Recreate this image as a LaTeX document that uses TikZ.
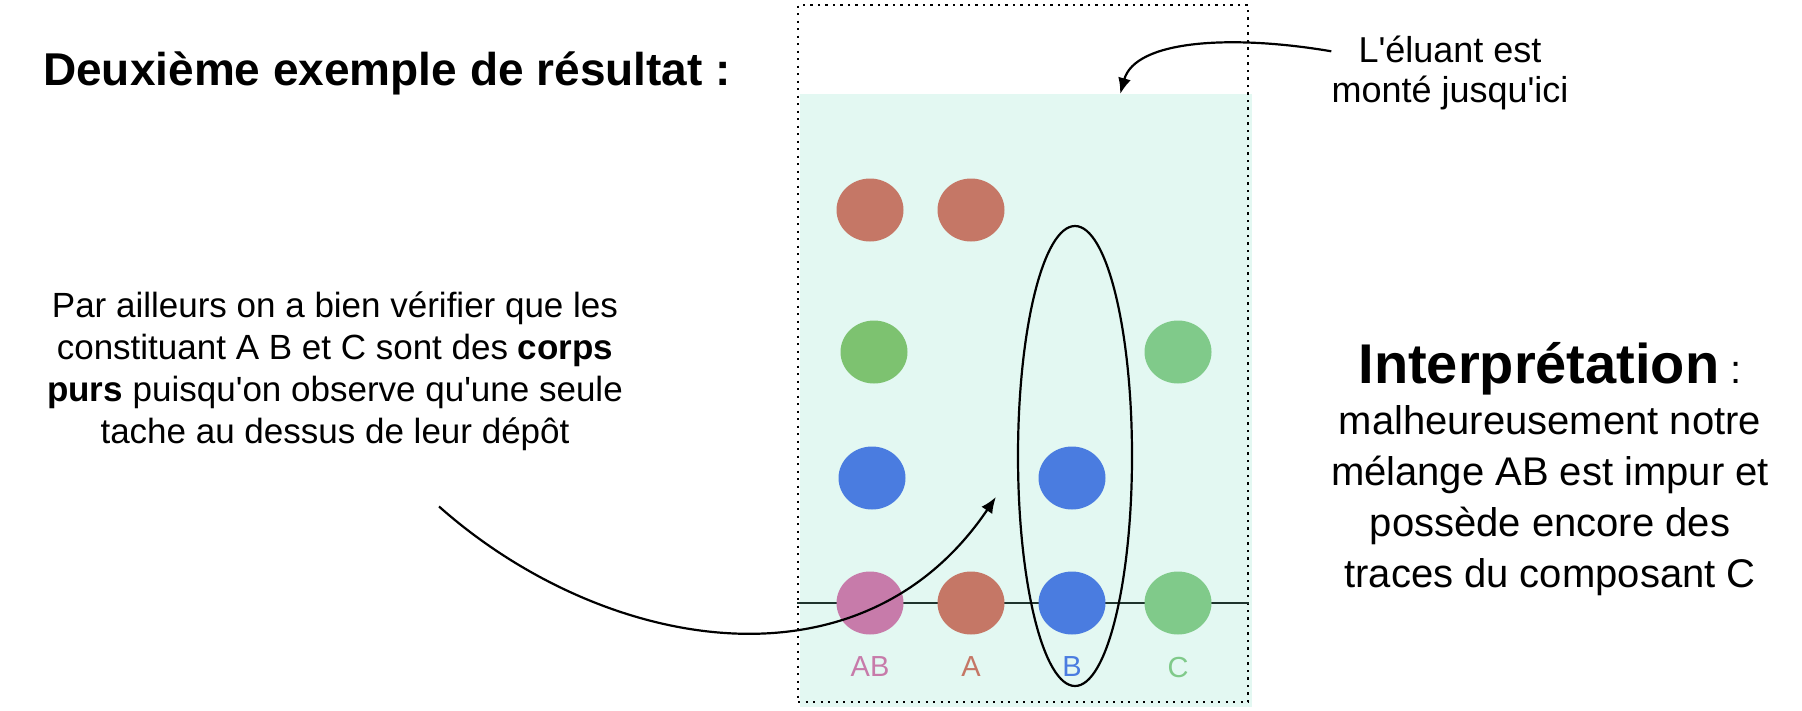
\documentclass[tikz,border=0pt]{standalone}
\usepackage{fontspec}
\setmainfont{Liberation Sans}
\usetikzlibrary{shapes.geometric, arrows.meta, positioning}
\definecolor{pMint}{RGB}{227,248,242}
\definecolor{pBrick}{RGB}{197,119,102}
\definecolor{pLeaf}{RGB}{125,194,112}
\definecolor{pLeafSoft}{RGB}{128,202,138}
\definecolor{pBlue}{RGB}{74,124,224}
\definecolor{pPink}{RGB}{199,123,170}
\definecolor{pInk}{RGB}{30,52,45}
\newcommand{\apos}{\textquotesingle}
\tikzset{
  spot/.style={ellipse, minimum width=67pt, minimum height=63pt, inner sep=0pt},
  spotlabel/.style={font=\fontsize{29}{32}\selectfont, inner sep=0pt, below=22pt of #1},
  bigtext/.style={align=center, inner sep=0pt},
  curvearrow/.style={-{Latex[length=16pt,width=13pt]}, line width=2.2pt}
}

\begin{document}
\begin{tikzpicture}[x=1pt,y=-1pt]
\useasboundingbox (0,0) rectangle (1802,710);
% plaque and solvent front
\node[fill=pMint, minimum width=452pt, minimum height=613pt, inner sep=0pt, anchor=north west] (plaque) at (800,94) {};
\node[draw, line width=2.2pt, dash pattern=on 2.2pt off 5.3pt, minimum width=450pt, minimum height=697pt, inner sep=0pt, anchor=north west] (cadre) at (797,4) {};
\coordinate (ligne) at (0,603);
\draw[pInk, line width=1.8pt] (cadre.west |- ligne) -- (cadre.east |- ligne);
% deposits
\node[spot, fill=pPink] (depAB) at (870,603) {};
\node[spot, fill=pBrick] (depA) at (971,603) {};
\node[spot, fill=pBlue] (depB) at (1072,603) {};
\node[spot, fill=pLeafSoft] (depC) at (1178,603) {};
\node[spotlabel=depAB, text=pPink] (labAB) {AB};
\node[spotlabel=depA, text=pBrick] (labA) {A};
\node[spotlabel=depB, text=pBlue] (labB) {B};
\node[spotlabel=depC, text=pLeafSoft] (labC) {C};
% spots after migration
\node[spot, fill=pBrick] (tacheAB1) at (870,210) {};
\node[spot, fill=pLeaf] (tacheAB2) at (874,352) {};
\node[spot, fill=pBlue] (tacheAB3) at (872,478) {};
\node[spot, fill=pBrick] (tacheA) at (971,210) {};
\node[spot, fill=pBlue] (tacheB) at (1072,478) {};
\node[spot, fill=pLeafSoft] (tacheC) at (1178,352) {};
\node[draw, ellipse, line width=2.2pt, minimum width=114pt, minimum height=460pt, inner sep=0pt] (boucleB) at (1075,456) {};
% texts (base = last line)
\node[anchor=base west, inner sep=0pt, font=\fontsize{46}{52}\selectfont\bfseries] (titre) at (43,85) {Deuxième exemple de résultat :};
\node[bigtext, anchor=base, font=\fontsize{35}{42}\selectfont] (remarque) at (335,443) {Par ailleurs on a bien vérifier que les\\constituant A B et C sont des \textbf{corps}\\\textbf{purs} puisqu\apos on observe qu\apos une seule\\tache au dessus de leur dépôt};
\node[bigtext, anchor=base, font=\fontsize{36}{40}\selectfont] (eluant) at (1450,102) {L\apos éluant est\\monté jusqu\apos ici};
\node[anchor=base, inner sep=0pt] (interp) at (1550,383) {\fontsize{56}{60}\selectfont\bfseries Interprétation\fontsize{40}{48}\selectfont\mdseries\ :};
\node[bigtext, anchor=base, font=\fontsize{40}{51}\selectfont] (analyse) at (1550,587) {malheureusement notre\\mélange AB est impur et\\possède encore des\\traces du composant C};
% arrows
\coordinate (departEl) at ([yshift=-16pt]eluant.north west);
\coordinate (front) at ([xshift=94pt]plaque.north);
\draw[curvearrow] (departEl) .. controls +(-100,-17) and +(15,-54) .. (front);
\coordinate (departRem) at ([xshift=104pt,yshift=-56pt]remarque.south);
\coordinate (cibleB) at ([xshift=-21pt,yshift=-41pt]boucleB.west);
\draw[curvearrow] (departRem) .. controls +(161,143) and +(-137,203) .. (cibleB);
\end{tikzpicture}
\end{document}
